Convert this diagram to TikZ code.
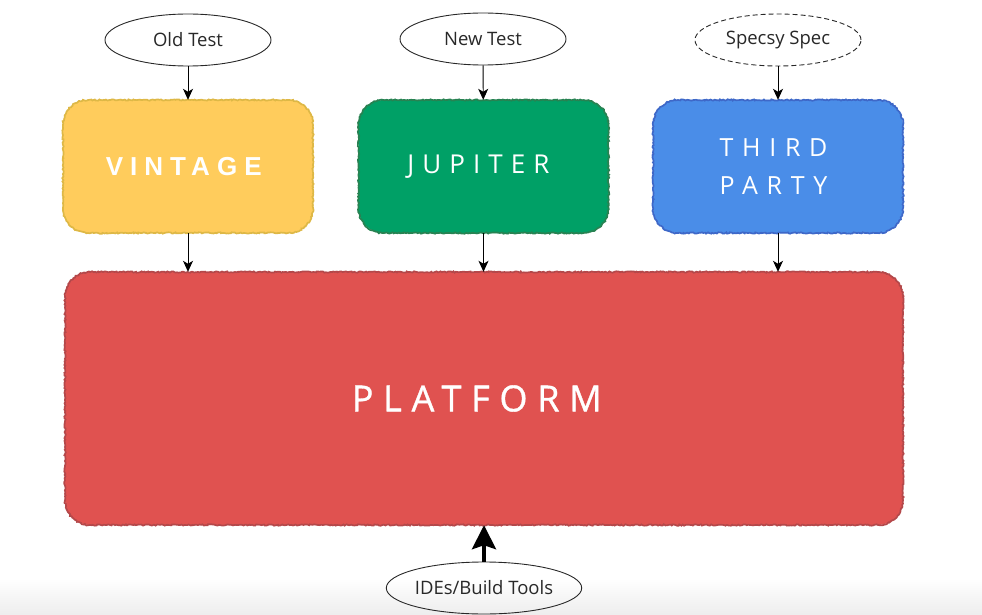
\documentclass[tikz,border=0pt]{standalone}
\usepackage{fontspec}
\setmainfont{Open Sans}
\newfontfamily\vinfont{Liberation Sans}[LetterSpace=27]
\newfontfamily\jupfont{Open Sans}[LetterSpace=31]
\newfontfamily\tpfont{Open Sans}[LetterSpace=35]
\newfontfamily\platfont{Open Sans}[LetterSpace=27,FakeBold=1]
\usetikzlibrary{shapes.geometric,arrows.meta,decorations.pathmorphing,positioning}
\definecolor{vinF}{RGB}{255,204,92}
\definecolor{vinB}{RGB}{222,184,70}
\definecolor{jupF}{RGB}{0,160,102}
\definecolor{jupB}{RGB}{40,130,82}
\definecolor{tpF}{RGB}{74,141,232}
\definecolor{tpB}{RGB}{62,104,200}
\definecolor{platF}{RGB}{224,82,80}
\definecolor{platB}{RGB}{180,72,74}
\definecolor{ink}{RGB}{40,40,40}
\tikzset{
  oval/.style={ellipse, draw=ink, line width=0.9pt, minimum width=166pt, minimum height=52pt,
    inner sep=0pt, font=\fontsize{18.5}{22}\selectfont, text=ink},
  box/.style={rectangle, rounded corners=25pt, minimum width=250pt, minimum height=133pt,
    inner sep=0pt, text=white, align=center},
  rough/.style={postaction={sharp corners, draw=#1, line width=1.7pt, decorate,
    decoration={random steps, segment length=1.5pt, amplitude=0.7pt}}},
  arr/.style={draw=black, line width=0.9pt, -{Stealth[length=11pt,width=10pt,inset=3pt]}},
  bigarr/.style={draw=black, line width=4pt, -{Stealth[length=24pt,width=24pt,inset=4pt]}}
}
\begin{document}
\begin{tikzpicture}[x=1pt,y=-1pt]
\useasboundingbox (0,0) rectangle (982,615);
\shade[top color=white, bottom color=black!7] (0,578) rectangle (982,615);

\node[oval] (old) at (188,40) {Old Test};
\node[oval] (new) at (483,39) {New Test};
\node[oval, dashed, dash pattern=on 5pt off 3pt] (spec) at (778,40) {Specsy Spec};

\node[box, fill=vinF, rough=vinB] (vin) at (188,166.5)
  {\raisebox{-2pt}{\vinfont\bfseries\fontsize{26}{30}\selectfont\hspace*{-8.5pt}VINTAGE}};
\node[box, fill=jupF, rough=jupB] (jup) at (483.5,166.5)
  {\raisebox{0.5pt}{\jupfont\fontsize{26}{30}\selectfont\hspace*{-10pt}JUPITER}};
\node[box, fill=tpF, rough=tpB, font=\tpfont\fontsize{25}{38}\selectfont] (tp) at (778,166.5)
  {\hspace*{-9pt}THIRD\\\hspace*{-9pt}PARTY};

\node[rectangle, rounded corners=25pt, minimum width=838pt, minimum height=253pt, inner sep=0pt,
  fill=platF, rough=platB, text=white] (plat) at (484,398.5)
  {\raisebox{-2pt}{\platfont\fontsize{36}{40}\selectfont\hspace*{-14.5pt}PLATFORM}};

\node[oval] (ide) at (484,588) {IDEs/Build Tools};

\draw[arr] (old) -- (vin);
\draw[arr] (new) -- (jup);
\draw[arr] (spec) -- (tp);
\draw[arr] (vin) -- (vin |- plat.north);
\draw[arr] (jup) -- (jup |- plat.north);
\draw[arr] (tp) -- (tp |- plat.north);
\draw[bigarr] (ide) -- (plat);
\end{tikzpicture}
\end{document}
